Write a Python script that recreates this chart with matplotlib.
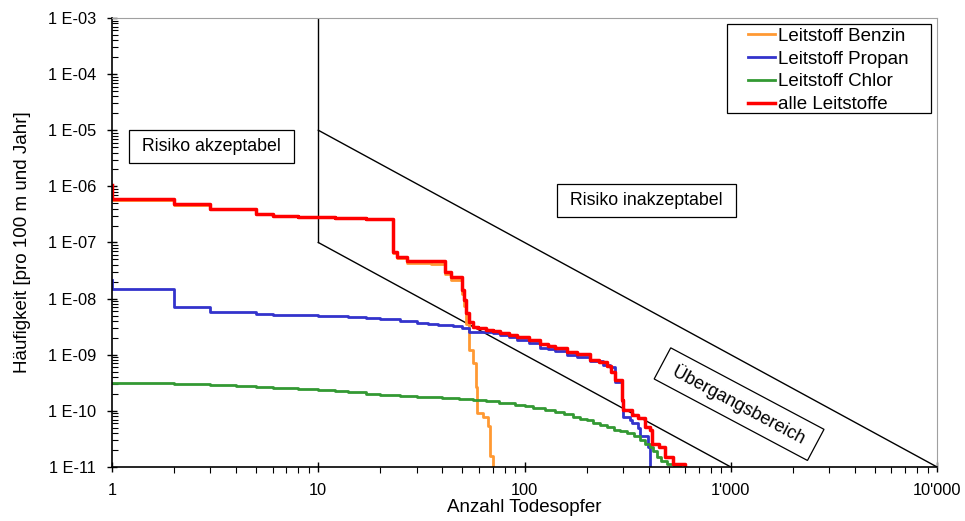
import numpy as np
import matplotlib.pyplot as plt
from matplotlib.patches import Rectangle
from matplotlib.ticker import LogLocator, FixedLocator, FuncFormatter, NullFormatter

plt.rcParams['font.family'] = ['Liberation Sans', 'DejaVu Sans']

# F-N curves (step points: number of fatalities, frequency)
n_alle = [1, 1, 2, 3, 5, 6, 8, 12, 17, 23, 24, 27, 35, 41, 44, 50, 51, 52, 54, 56, 59.5, 65, 70,
          76, 84, 92, 105, 119, 130, 140, 160, 180, 208, 230, 250, 262, 275, 296, 301, 330, 356,
          384, 406, 413, 446, 480, 526, 600]
f_alle = [1.06e-6, 5.96e-7, 4.79e-7, 3.95e-7, 3.23e-7, 3.0e-7, 2.85e-7, 2.74e-7, 2.66e-7, 6.9e-8,
          5.6e-8, 4.7e-8, 4.6e-8, 3.0e-8, 2.46e-8, 1.42e-8, 9.5e-9, 5.5e-9, 3.9e-9, 3.16e-9,
          3.0e-9, 2.75e-9, 2.6e-9, 2.45e-9, 2.25e-9, 2.1e-9, 1.85e-9, 1.55e-9, 1.45e-9, 1.3e-9,
          1.13e-9, 1.05e-9, 8.1e-10, 7.4e-10, 6.3e-10, 5.0e-10, 3.55e-10, 1.56e-10, 1.04e-10,
          8.5e-11, 7.4e-11, 5.2e-11, 4.5e-11, 2.6e-11, 2.3e-11, 1.5e-11, 1.15e-11, 5e-12]

n_benzin = [1, 1, 2, 3, 5, 6, 8, 12, 17, 23, 24, 27, 35, 41, 44, 50, 51, 52, 54, 56.5, 58, 59, 63,
            66.8, 68, 70]
f_benzin = [1.03e-6, 5.8e-7, 4.7e-7, 3.88e-7, 3.17e-7, 2.94e-7, 2.8e-7, 2.69e-7, 2.61e-7, 6.4e-8,
            5.2e-8, 4.3e-8, 4.2e-8, 2.7e-8, 2.15e-8, 1.2e-8, 7.5e-9, 3.5e-9, 1.2e-9, 7.0e-10,
            2.7e-10, 9.1e-11, 7.9e-11, 5.3e-11, 1.6e-11, 5e-12]

n_propan = [1, 1, 2, 3, 4, 5, 6, 8, 10, 12, 14, 17, 20, 25, 30, 34, 38, 45, 50, 54, 65, 70, 76,
            84, 92, 105, 119, 130, 140, 160, 180, 208, 240, 260, 275, 296, 300, 325, 330, 356,
            362, 398, 406]
f_propan = [2.15e-8, 1.47e-8, 7.0e-9, 5.85e-9, 5.75e-9, 5.4e-9, 5.17e-9, 5.08e-9, 5.0e-9,
            4.85e-9, 4.7e-9, 4.46e-9, 4.3e-9, 4.0e-9, 3.75e-9, 3.6e-9, 3.45e-9, 3.2e-9, 3.0e-9,
            2.57e-9, 2.5e-9, 2.4e-9, 2.25e-9, 2.05e-9, 1.83e-9, 1.6e-9, 1.32e-9, 1.25e-9,
            1.15e-9, 1.0e-9, 9.2e-10, 7.6e-10, 6.5e-10, 6.1e-10, 3.3e-10, 1.5e-10, 7.9e-11,
            6.9e-11, 6.0e-11, 4.9e-11, 3.5e-11, 2.3e-11, 5e-12]

n_chlor = [1, 2, 3, 4, 5, 6, 8, 10, 12, 14, 17, 20, 25, 30, 35, 40, 48, 56, 65, 75, 90, 100, 110,
           125, 140, 155, 172, 185, 200, 215, 232, 250, 270, 290, 313, 340, 363, 385, 406, 420,
           437, 460, 490, 530, 568]
f_chlor = [3.1e-10, 3.0e-10, 2.88e-10, 2.77e-10, 2.66e-10, 2.56e-10, 2.46e-10, 2.35e-10, 2.25e-10,
           2.15e-10, 2.02e-10, 1.92e-10, 1.85e-10, 1.8e-10, 1.75e-10, 1.7e-10, 1.62e-10, 1.56e-10,
           1.48e-10, 1.4e-10, 1.28e-10, 1.2e-10, 1.12e-10, 1.03e-10, 9.5e-11, 8.7e-11, 7.9e-11,
           7.3e-11, 6.8e-11, 6.2e-11, 5.6e-11, 5.1e-11, 4.6e-11, 4.3e-11, 4.0e-11, 3.5e-11,
           3.0e-11, 2.6e-11, 2.3e-11, 1.9e-11, 1.5e-11, 1.3e-11, 1.15e-11, 1.05e-11, 5e-12]

# acceptance criteria lines
grenze_x = [10, 10]
grenze_y = [1e-3, 1e-7]
oben_x = [10, 10000]
oben_y = [1e-5, 1e-11]
unten_x = [10, 1000]
unten_y = [1e-7, 1e-11]

fig = plt.figure(figsize=(9.65, 5.21), dpi=100)
ax = fig.add_axes([0.1161, 0.1036, 0.855, 0.8619])

ax.plot(grenze_x, grenze_y, color='black', lw=1.0)
ax.plot(oben_x, oben_y, color='black', lw=1.0)
ax.plot(unten_x, unten_y, color='black', lw=1.0)

ax.plot(n_benzin, f_benzin, drawstyle='steps-post', color='#ff9933', lw=2.0, label='Leitstoff Benzin')
ax.plot(n_propan, f_propan, drawstyle='steps-post', color='#3333cc', lw=2.0, label='Leitstoff Propan')
ax.plot(n_chlor, f_chlor, drawstyle='steps-post', color='#339933', lw=2.0, label='Leitstoff Chlor')
ax.plot(n_alle, f_alle, drawstyle='steps-post', color='#ff0000', lw=2.5, label='alle Leitstoffe')

ax.set_xscale('log')
ax.set_yscale('log')
ax.set_xlim(1, 10000)
ax.set_ylim(1e-11, 1e-3)

ax.xaxis.set_major_locator(FixedLocator([1, 10, 100, 1000, 10000]))
ax.xaxis.set_major_formatter(FuncFormatter(lambda v, p: f"{int(round(v)):,}".replace(',', "'")))
ax.xaxis.set_minor_locator(LogLocator(base=10, subs=np.arange(2, 10), numticks=100))
ax.xaxis.set_minor_formatter(NullFormatter())

ax.yaxis.set_major_locator(LogLocator(base=10, numticks=20))
ax.yaxis.set_major_formatter(FuncFormatter(lambda v, p: "1 E-%02d" % int(round(-np.log10(v)))))
ax.yaxis.set_minor_locator(LogLocator(base=10, subs=np.arange(2, 10), numticks=100))
ax.yaxis.set_minor_formatter(NullFormatter())

ax.tick_params(which='major', direction='inout', length=7, width=1, labelsize=11.8, pad=8)
ax.tick_params(axis='x', which='minor', direction='out', length=4, width=0.8)
ax.tick_params(axis='y', which='minor', direction='in', length=4, width=0.8)

for s in ['top', 'right']:
    ax.spines[s].set_color('#a0a0a0')
for s in ['left', 'bottom']:
    ax.spines[s].set_color('black')
    ax.spines[s].set_linewidth(1.2)

ax.set_xlabel('Anzahl Todesopfer', fontsize=13.5, labelpad=1)
ax.set_ylabel('Häufigkeit [pro 100 m und Jahr]', fontsize=13.5, labelpad=12)

box = dict(boxstyle='square,pad=0.45', facecolor='white', edgecolor='black', lw=0.9)
ax.text(0.121, 0.713, ' Risiko akzeptabel ', transform=ax.transAxes, ha='center', va='center',
        fontsize=12.8, bbox=box)
ax.text(0.648, 0.5935, ' Risiko inakzeptabel ', transform=ax.transAxes, ha='center', va='center',
        fontsize=12.8, bbox=box)
ax.text(0.76, 0.140, ' Übergangsbereich ', transform=ax.transAxes, ha='center', va='center',
        fontsize=13, rotation=-28, rotation_mode='anchor', bbox=box)

# legend: Excel-style frame with wide side padding
ax.add_patch(Rectangle((0.7455, 0.7884), 0.2472, 0.1982, transform=ax.transAxes,
                       facecolor='white', edgecolor='black', lw=0.9, zorder=4))
leg = ax.legend(loc='upper left', bbox_to_anchor=(0.771, 0.978), fontsize=13.5, frameon=False,
                handlelength=1.45, handletextpad=0.15, labelspacing=0.3,
                borderpad=0, borderaxespad=0)
leg.set_zorder(5)

fig.savefig('out.png', dpi=100)
